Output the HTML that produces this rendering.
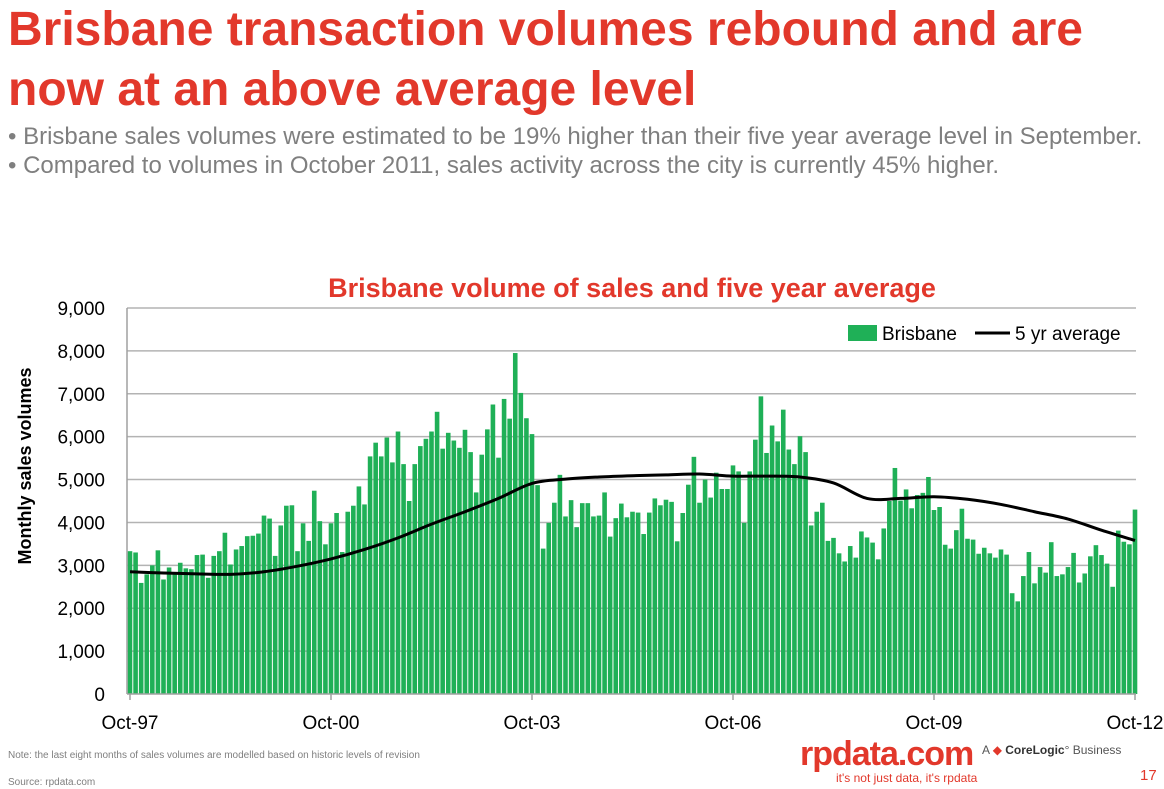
<!DOCTYPE html>
<html><head><meta charset="utf-8">
<style>
body{margin:0;width:1164px;height:789px;background:#fff;overflow:hidden;font-family:"Liberation Sans",Arial,sans-serif;position:relative}
.t{position:absolute;white-space:nowrap}
</style></head><body>
<div class="t" style="left:8px;top:0px;font-size:48px;font-weight:bold;color:#e2382b;line-height:60px">Brisbane transaction volumes rebound and are<br>now at an above average level</div>
<div class="t" style="left:8px;top:123px;font-size:24px;color:#7f7f7f">• Brisbane sales volumes were estimated to be 19% higher than their five year average level in September.</div>
<div class="t" style="left:8px;top:152px;font-size:24px;color:#7f7f7f">• Compared to volumes in October 2011, sales activity across the city is currently 45% higher.</div>
<svg id="chart" width="1164" height="789" style="position:absolute;left:0;top:0"></svg>
<div class="t" style="left:8px;top:750px;font-size:10px;color:#7f7f7f">Note: the last eight months of sales volumes are modelled based on historic levels of revision</div>
<div class="t" style="left:8px;top:777px;font-size:10px;color:#7f7f7f">Source:  rpdata.com</div>
<div class="t" style="left:800px;top:735px;font-size:34px;font-weight:bold;color:#e2382b;letter-spacing:-1px">rpdata.com</div>
<div class="t" style="left:836px;top:771px;font-size:12px;color:#e2382b">it's not just data, it's rpdata</div>
<div class="t" style="left:982px;top:743px;font-size:12px;color:#555">A <span style="color:#e2382b">◆</span> <b style="color:#333">CoreLogic</b>° Business</div>
<div class="t" style="left:1140px;top:767px;font-size:15px;color:#e2382b">17</div>
<script>
const bris=[3330,3300,2590,2790,3000,3350,2670,2950,2790,3060,2930,2910,3240,3250,2710,3220,3330,3760,3020,3370,3450,3680,3690,3740,4160,4090,3220,3930,4390,4400,3330,3980,3570,4740,4030,3490,3980,4220,3310,4250,4390,4840,4420,5540,5860,5540,
5980,5400,6120,5360,4500,5360,5780,5950,6120,6580,5720,6090,5910,5740,6160,5640,4700,5580,6170,6750,5510,6880,6420,7950,7020,6430,6060,4870,3390,3990,4460,5110,4140,4520,3890,4450,4450,4140,4160,4700,3670,4100,4440,4120,4250,
4230,3730,4230,4560,4400,4530,4480,3560,4220,4880,5530,4460,5000,4580,5160,4780,4780,5330,5190,3990,5190,5930,6940,5620,6260,5890,6630,5700,5360,6010,5640,3930,4250,4460,3570,3640,3280,3090,3450,3180,3790,3650,3530,3140,
3860,4500,5270,4510,4770,4330,4640,4690,5060,4290,4360,3480,3390,3820,4320,3620,3600,3270,3410,3280,3180,3370,3250,2350,2160,2750,3310,2580,2960,2830,3540,2750,2790,2960,3290,2600,2810,3210,3470,3240,3040,2500,3810,3550,3490,4300];
const avgIdx=[0,6,12,18,24,30,36,42,48,54,60,66,72,78,84,90,96,102,108,114,120,126,132,138,144,150,156,162,168,174,180];
const avgVal=[2850,2820,2800,2790,2850,2980,3150,3370,3640,3960,4250,4560,4910,5010,5060,5090,5110,5130,5080,5080,5060,4920,4560,4560,4600,4540,4420,4250,4080,3820,3580];
const yTicks=[0,1000,2000,3000,4000,5000,6000,7000,8000,9000];
const xLabels=["Oct-97","Oct-00","Oct-03","Oct-06","Oct-09","Oct-12"];
const xLabelIdx=[0,36,72,108,144,180];

const svg=document.getElementById('chart');const NS='http://www.w3.org/2000/svg';
const X0=127,X1=1136,Y0=694,Y1=308;
const step=(1133-128)/180;
const x=i=>130+i*step;
const y=v=>Y0-(v/9000)*(Y0-Y1);
function mk(t,a,txt){const e=document.createElementNS(NS,t);for(const k in a)e.setAttribute(k,a[k]);if(txt!=null)e.textContent=txt;svg.appendChild(e);return e;}
yTicks.forEach(v=>{
 if(v>0){const g=mk('line',{x1:X0,x2:X1,y1:y(v),y2:y(v),stroke:'#b3b3b3','stroke-width':1.5});
 
 }
 const t=mk('text',{x:105,y:y(v)+7,'text-anchor':'end','font-size':19,fill:'#000'},v.toLocaleString('en-US'));
 
 
});
bris.forEach((v,i)=>{
 const r=mk('rect',{x:x(i)-2.3,y:y(v),width:4.6,height:Y0-y(v),fill:'#1fb057'});
 
 
});
const ax=mk('line',{x1:X0,x2:X1,y1:Y0,y2:Y0,stroke:'#a0a0a0','stroke-width':1.5});


const ay=mk('line',{x1:X0,x2:X0,y1:Y1,y2:Y0,stroke:'#a0a0a0','stroke-width':1.5});


xLabelIdx.forEach((ix,k)=>{
 const tk=mk('line',{x1:x(ix),x2:x(ix),y1:Y0,y2:Y0+6,stroke:'#a0a0a0','stroke-width':1.5});
 
 
 const t=mk('text',{x:x(ix),y:729,'text-anchor':'middle','font-size':19},xLabels[k]);
 
 
});
const P=avgIdx.map((ix,k)=>[x(ix),y(avgVal[k])]);
let d='M'+P[0][0]+','+P[0][1];
for(let i=0;i<P.length-1;i++){const p0=P[Math.max(0,i-1)],p1=P[i],p2=P[i+1],p3=P[Math.min(P.length-1,i+2)];
 d+=' C'+(p1[0]+(p2[0]-p0[0])/6)+','+(p1[1]+(p2[1]-p0[1])/6)+' '+(p2[0]-(p3[0]-p1[0])/6)+','+(p2[1]-(p3[1]-p1[1])/6)+' '+p2[0]+','+p2[1];}
const ln=mk('path',{d:d,fill:'none',stroke:'#000','stroke-width':3});


const ct=mk('text',{x:632,y:297,'text-anchor':'middle','font-size':27,'font-weight':'bold',fill:'#e2382b'},'Brisbane volume of sales and five year average');


const yt=mk('text',{x:0,y:0,transform:'translate(31,466) rotate(-90)','text-anchor':'middle','font-size':18,'font-weight':'bold'},'Monthly sales volumes');


const ls=mk('rect',{x:848,y:325,width:29,height:16,fill:'#1fb057'});


const lt=mk('text',{x:882,y:340,'font-size':19},'Brisbane');


const ll=mk('line',{x1:975,x2:1010,y1:333,y2:333,stroke:'#000','stroke-width':3});


const la=mk('text',{x:1015,y:340,'font-size':19},'5 yr average');


</script>
</body></html>
